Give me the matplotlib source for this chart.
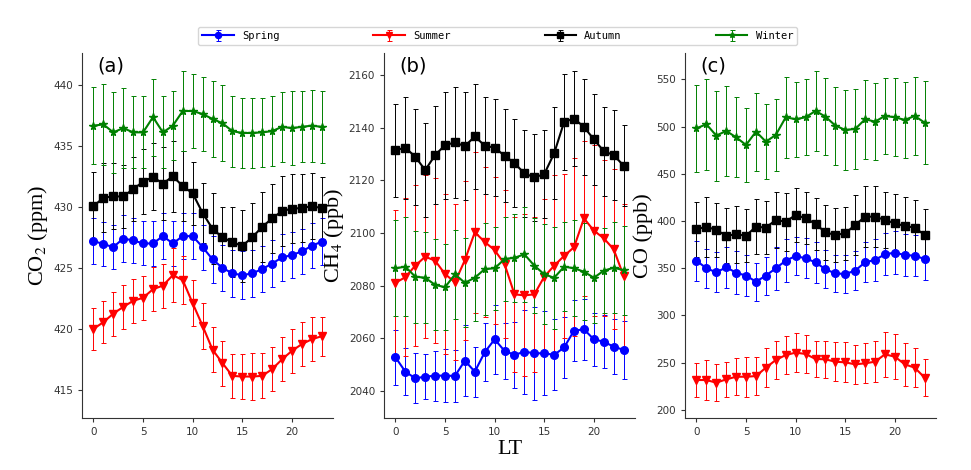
import matplotlib
matplotlib.use("Agg")
import matplotlib.pyplot as plt
import numpy as np

plt.rcParams['mathtext.fontset'] = 'stix'

### hours (LT) ###
hours = np.arange(24)

### (a) CO2 (ppm) ###
co2_spring = [427.2, 426.95, 426.7, 427.4, 427.25, 427.0, 427.0, 427.6, 427.0, 427.6, 427.6, 426.7,
              425.7, 425.0, 424.55, 424.4, 424.55, 424.9, 425.35, 425.85, 426.05, 426.35, 426.8, 427.15]
co2_spring_err = [1.85, 1.8, 1.8, 1.9, 1.85, 1.8, 1.85, 1.9, 1.85, 1.9, 1.9, 1.85,
                  1.9, 1.9, 1.95, 1.95, 1.95, 1.9, 1.9, 1.9, 1.85, 1.85, 1.85, 1.9]
co2_summer = [420.0, 420.55, 421.25, 421.8, 422.3, 422.55, 423.25, 423.55, 424.4, 424.0, 422.1, 420.25,
              418.3, 417.2, 416.15, 416.1, 416.1, 416.15, 416.7, 417.5, 418.2, 418.75, 419.15, 419.4]
co2_summer_err = [1.7, 1.7, 1.8, 1.8, 1.8, 1.8, 1.8, 1.8, 2.2, 2.0, 1.9, 1.9,
                  1.85, 1.85, 1.8, 1.85, 1.9, 1.85, 1.8, 1.8, 1.8, 1.8, 1.8, 1.6]
co2_autumn = [430.05, 430.75, 430.85, 430.85, 431.45, 432.05, 432.45, 431.9, 432.5, 431.7, 431.1, 429.5,
              428.2, 427.5, 427.1, 426.8, 427.5, 428.35, 429.05, 429.65, 429.85, 429.9, 430.05, 429.9]
co2_autumn_err = [2.8, 2.85, 2.7, 2.6, 2.65, 2.65, 2.75, 3.0, 2.9, 2.85, 2.55, 2.45,
                  2.9, 2.45, 2.85, 2.95, 2.85, 2.9, 2.8, 2.85, 2.8, 2.75, 2.7, 2.55]
co2_winter = [436.65, 436.75, 436.1, 436.45, 436.1, 436.1, 437.35, 436.1, 436.65, 437.85, 437.85, 437.6,
              437.2, 436.85, 436.2, 436.05, 436.05, 436.1, 436.2, 436.55, 436.45, 436.55, 436.65, 436.55]
co2_winter_err = [3.15, 3.35, 3.3, 3.25, 2.95, 2.95, 3.15, 2.95, 2.8, 3.25, 3.05, 3.0,
                  3.1, 3.1, 2.9, 2.85, 2.85, 2.8, 2.85, 2.85, 3.0, 2.9, 2.95, 2.95]

### (b) CH4 (ppb) ###
ch4_spring = [2052.8, 2047.3, 2044.8, 2045.4, 2045.8, 2045.8, 2045.7, 2051.5, 2047.3, 2054.7, 2059.6, 2055.2,
              2053.7, 2054.9, 2054.3, 2054.3, 2053.7, 2056.5, 2062.9, 2063.4, 2059.6, 2058.7, 2056.8, 2055.6]
ch4_spring_err = [10.5, 9.0, 9.5, 8.5, 9.5, 10.0, 10.0, 13.5, 9.5, 11.0, 13.0, 10.5,
                  12.5, 16.0, 17.7, 16.0, 13.5, 11.5, 11.7, 11.5, 10.0, 10.0, 10.5, 11.0]
ch4_summer = [2081.1, 2083.2, 2087.6, 2091.0, 2089.5, 2084.4, 2081.3, 2089.7, 2100.3, 2096.6, 2093.5, 2088.2,
              2076.7, 2076.3, 2076.7, 2083.4, 2087.6, 2091.3, 2094.6, 2105.6, 2100.9, 2098.0, 2093.8, 2083.7]
ch4_summer_err = [27.6, 30.0, 30.6, 31.0, 31.3, 30.4, 29.6, 30.2, 30.6, 28.4, 27.9, 28.2,
                  29.5, 30.8, 29.5, 29.4, 34.4, 31.1, 33.8, 29.5, 32.5, 29.7, 30.4, 27.5]
ch4_autumn = [2131.5, 2132.4, 2129.0, 2123.9, 2129.6, 2133.4, 2134.4, 2133.0, 2136.7, 2133.2, 2132.4, 2129.4,
              2126.5, 2122.7, 2121.1, 2122.4, 2130.3, 2142.2, 2143.5, 2140.3, 2135.6, 2131.1, 2129.6, 2125.6]
ch4_autumn_err = [17.7, 19.4, 18.3, 18.0, 18.6, 20.3, 21.2, 20.4, 19.9, 18.3, 18.5, 17.6,
                  16.7, 16.5, 16.6, 16.7, 17.4, 18.4, 18.1, 18.1, 17.4, 16.9, 17.1, 15.4]
ch4_winter = [2086.6, 2087.2, 2083.4, 2083.0, 2080.3, 2079.4, 2084.3, 2081.1, 2083.0, 2086.3, 2086.6, 2090.1,
              2090.6, 2091.9, 2087.6, 2084.3, 2083.0, 2087.2, 2086.6, 2085.3, 2083.0, 2085.7, 2086.8, 2085.9]
ch4_winter_err = [18.3, 18.9, 17.5, 17.3, 17.3, 16.3, 16.8, 16.9, 16.5, 17.4, 15.8, 16.0,
                  16.7, 18.0, 18.1, 19.0, 19.3, 17.0, 18.3, 18.4, 17.3, 16.1, 17.3, 16.9]

### (c) CO (ppb) ###
co_spring = [358.0, 350.0, 345.7, 351.0, 345.3, 342.2, 335.8, 342.2, 350.0, 358.0, 363.0, 360.5,
             356.3, 348.9, 344.6, 343.9, 347.5, 356.3, 358.8, 364.8, 366.5, 364.0, 363.3, 359.8]
co_spring_err = [21.2, 20.5, 21.0, 22.0, 23.0, 22.0, 20.0, 20.0, 23.0, 22.5, 20.5, 21.0,
                 21.5, 20.0, 19.5, 20.5, 21.0, 21.0, 22.0, 22.0, 23.0, 22.0, 22.0, 22.0]
co_summer = [231.7, 231.7, 228.9, 232.4, 235.2, 235.2, 235.9, 244.8, 252.9, 258.2, 260.7, 259.3,
             254.0, 253.6, 251.1, 250.4, 248.3, 249.4, 251.1, 258.9, 256.4, 248.3, 244.8, 234.2]
co_summer_err = [18.4, 21.2, 19.4, 18.7, 19.5, 21.2, 20.5, 20.4, 20.1, 20.1, 20.4, 20.0,
                 19.3, 19.7, 20.5, 21.2, 20.5, 21.1, 21.9, 24.0, 24.0, 22.6, 20.4, 19.4]
co_autumn = [391.2, 394.0, 390.5, 384.5, 385.9, 384.5, 394.0, 393.0, 401.1, 399.3, 406.4, 402.9,
             396.9, 388.0, 385.2, 387.0, 395.8, 404.6, 404.6, 401.1, 397.6, 394.7, 393.0, 385.2]
co_autumn_err = [29.3, 31.8, 28.9, 28.9, 30.4, 28.3, 29.3, 28.2, 29.3, 30.7, 28.9, 27.5,
                 27.8, 29.0, 28.9, 28.2, 31.8, 32.5, 32.5, 29.3, 31.0, 30.4, 29.3, 27.6]
co_winter = [498.1, 502.4, 490.4, 495.3, 488.6, 480.5, 494.6, 484.0, 491.1, 509.8, 507.7, 509.8,
             516.5, 510.5, 501.0, 496.4, 497.4, 507.7, 505.2, 511.2, 509.8, 507.0, 511.2, 504.1]
co_winter_err = [46.0, 48.0, 47.6, 47.7, 42.4, 38.8, 41.3, 39.5, 38.4, 43.0, 39.8, 40.2,
                 42.7, 40.5, 41.2, 42.3, 42.0, 41.6, 40.6, 39.8, 41.2, 40.5, 41.6, 44.1]

seasons = ['Spring', 'Summer', 'Autumn', 'Winter']
colors = ['blue', 'red', 'black', 'green']
markers = ['o', 'v', 's', '*']
msizes = [5.5, 5.5, 5.5, 5.5]

panels = [
    ('(a)', 'CO$_2$ (ppm)', [co2_spring, co2_summer, co2_autumn, co2_winter],
     [co2_spring_err, co2_summer_err, co2_autumn_err, co2_winter_err], (412.7, 442.6), [415, 420, 425, 430, 435, 440]),
    ('(b)', 'CH$_4$ (ppb)', [ch4_spring, ch4_summer, ch4_autumn, ch4_winter],
     [ch4_spring_err, ch4_summer_err, ch4_autumn_err, ch4_winter_err], (2029.7, 2168.4), [2040, 2060, 2080, 2100, 2120, 2140, 2160]),
    ('(c)', 'CO (ppb)', [co_spring, co_summer, co_autumn, co_winter],
     [co_spring_err, co_summer_err, co_autumn_err, co_winter_err], (191.5, 577.8), [200, 250, 300, 350, 400, 450, 500, 550]),
]

fig = plt.figure(figsize=(9.71, 4.70), dpi=100)
lefts = [0.0845, 0.3955, 0.7055]

for i, (tag, ylab, vals, errs, ylim, yt) in enumerate(panels):
    ax = fig.add_axes([lefts[i], 0.1106, 0.2585, 0.7766])
    for k in range(4):
        ax.errorbar(hours, vals[k], yerr=errs[k], color=colors[k], marker=markers[k],
                    markersize=msizes[k], lw=1.5, elinewidth=0.7, capsize=1.8, capthick=0.7,
                    ecolor=colors[k], label=seasons[k])
    ax.set_ylim(ylim)
    ax.set_yticks(yt)
    ax.set_xticks([0, 5, 10, 15, 20])
    ax.spines['top'].set_visible(False)
    ax.spines['right'].set_visible(False)
    ax.spines['left'].set_color('#333333')
    ax.spines['bottom'].set_color('#333333')
    ax.tick_params(labelsize=7.5, colors='#333333', length=3)
    ax.set_ylabel(ylab, fontsize=16, family='Liberation Serif', labelpad=2)
    ax.text(0.06, 0.965, tag, transform=ax.transAxes, fontsize=14, va='center', ha='left')
    if i == 1:
        ax.set_xlabel('LT', fontsize=16, family='Liberation Serif', labelpad=2)

handles, labels = ax.get_legend_handles_labels()
fig.legend(handles, labels, loc='lower left', ncol=4, mode='expand',
           bbox_to_anchor=(0.204, 0.904, 0.617, 0.045), prop={'family': 'DejaVu Sans Mono', 'size': 7.5},
           frameon=True, borderaxespad=0, handlelength=3, markerscale=0.8)

plt.savefig('out.png', dpi=100)
